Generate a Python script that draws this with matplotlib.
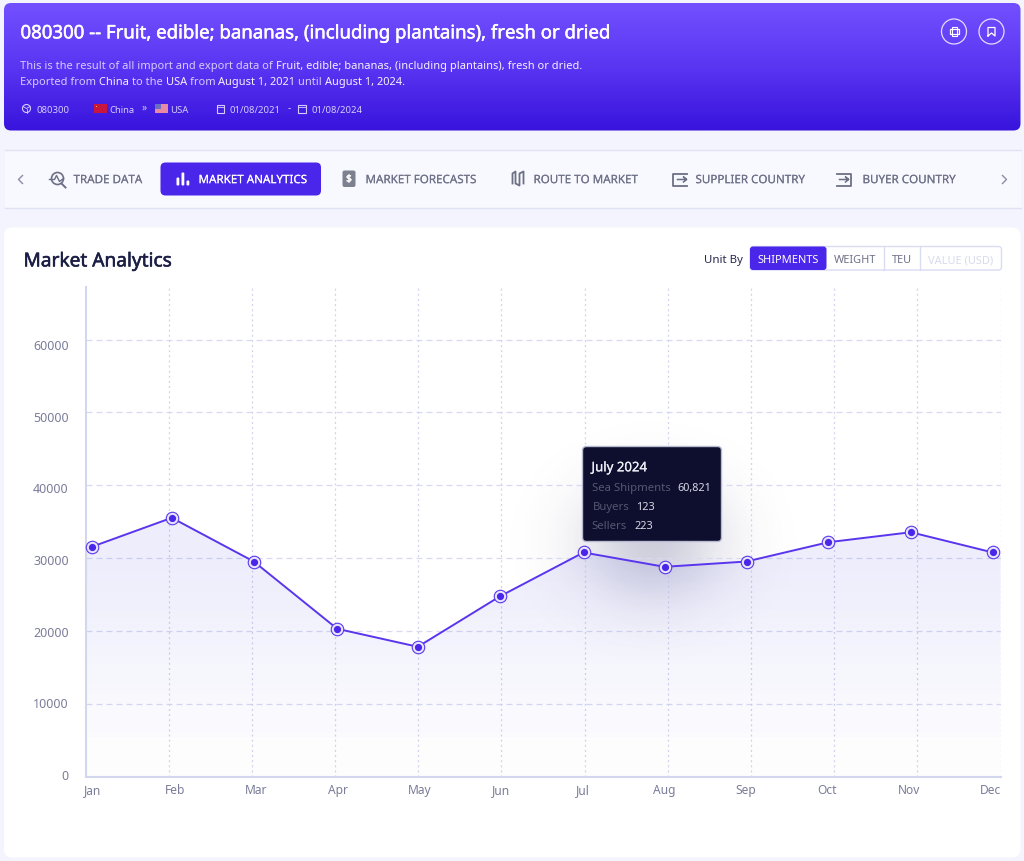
# market_analytics.py
import numpy as np
import matplotlib
matplotlib.use("Agg")
import matplotlib.pyplot as plt
import matplotlib.patheffects as pe
from matplotlib.colors import LinearSegmentedColormap, to_rgb
from matplotlib.patches import Circle, FancyBboxPatch, Polygon, Rectangle

plt.rcParams["font.family"] = ["Noto Sans", "DejaVu Sans"]

MONTHS = ["Jan", "Feb", "Mar", "Apr", "May", "Jun", "Jul", "Aug", "Sep", "Oct", "Nov", "Dec"]
# points do not sit on the gridlines in the original, so x is read off as well
MONTH_X = [0.076, 1.037, 2.023, 3.026, 3.995, 4.986, 5.987, 6.961, 7.947, 8.932, 9.922, 10.908]
SHIPMENTS = [31540, 35520, 29520, 20280, 17810, 24760, 30760, 28790, 29520, 32170, 33540, 30760]
Y_GRID = [10000, 20000, 30000, 40000, 50000, 60000]
Y_LABELS = ["0", "10000", "20000", "30000", "40000", "50000", "60000"]
NAV_ITEMS = ["TRADE DATA", "MARKET ANALYTICS", "MARKET FORECASTS", "ROUTE TO MARKET",
             "SUPPLIER COUNTRY", "BUYER COUNTRY"]
UNIT_ITEMS = ["SHIPMENTS", "WEIGHT", "TEU", "VALUE (USD)"]

W, H = 1024, 862
PAGE = "#f3f4fe"
PURPLE = "#4a25ea"
GREY = "#6d7085"


def px(v):
    return v * 0.72


def pixel_limits(a):
    # integer coordinates land on pixel centres
    a.set_xlim(-0.5, W - 0.5)
    a.set_ylim(H - 0.5, -0.5)


def box(ax, x0, y0, x1, y1, r, fc, ec="none", lw=0, z=2):
    p = FancyBboxPatch((x0, y0), x1 - x0, y1 - y0, boxstyle=f"round,pad=0,rounding_size={r}",
                       fc=fc, ec=ec, lw=lw, zorder=z)
    ax.add_patch(p)
    return p


def write(ax, x, y, s, size, color, heavy=0, ha="left", z=5):
    # centre of the letters sits a little below the centre of the text box
    t = ax.text(x, y + size * 0.1, s, fontsize=px(size), color=color, ha=ha, va="center", zorder=z)
    if heavy:
        # only regular weights resolve here, so thicken with a thin stroke
        t.set_path_effects([pe.withStroke(linewidth=heavy, foreground=color)])
    return t


def runs(ax, x, y, parts, size):
    # consecutive pieces of text in different colours
    rend = fig.canvas.get_renderer()
    for s, col in parts:
        t = write(ax, x, y, s, size, col)
        x += t.get_window_extent(rend).width


fig = plt.figure(figsize=(W / 100, H / 100), dpi=100, facecolor=PAGE)

# page layer, in pixels
ui = fig.add_axes([0, 0, 1, 1], zorder=1)
pixel_limits(ui)
ui.axis("off")

# header with vertical gradient
head = box(ui, 3.5, 3.5, 1020, 131, 7, "none", z=1)
cmap = LinearSegmentedColormap.from_list("head", ["#7350ff", "#5a35f2", "#3813dc"])
im = ui.imshow(np.linspace(0, 1, 128).reshape(-1, 1), extent=(3.5, 1020, 131, 3.5), cmap=cmap,
               aspect="auto", zorder=1)
im.set_clip_path(head)
pixel_limits(ui)

write(ui, 20, 32, "080300 -- Fruit, edible; bananas, (including plantains), fresh or dried",
      18.6, "white", heavy=0.35)
SOFT = "#d5ccff"
BRIGHT = "#f4f1ff"
runs(ui, 20, 65, [("This is the result of all import and export data of ", SOFT),
                  ("Fruit, edible; bananas, (including plantains), fresh or dried.", BRIGHT)], 11.06)
runs(ui, 20, 81, [("Exported from ", SOFT), ("China ", BRIGHT), ("to the ", SOFT), ("USA ", BRIGHT),
                  ("from ", SOFT), ("August 1, 2021 ", BRIGHT), ("until ", SOFT),
                  ("August 1, 2024.", BRIGHT)], 11.06)

ui.add_patch(Circle((26, 109), 4, fc="none", ec=SOFT, lw=0.8, zorder=4))
ui.plot([22.5, 26, 29.5], [107, 109, 107], color=SOFT, lw=0.6, zorder=4)
ui.plot([26, 26], [109, 113], color=SOFT, lw=0.6, zorder=4)
write(ui, 36, 109, "080300", 9.5, SOFT)
ui.add_patch(Rectangle((93, 104.5), 13, 8.5, fc="#c8163f", zorder=4))
ui.add_patch(Rectangle((95, 106), 1.6, 1.6, fc="#f2c84b", zorder=4))
write(ui, 109, 109, "China", 9.5, SOFT)
write(ui, 141, 107, "»", 10, SOFT)
ui.add_patch(Rectangle((154, 104.5), 13, 8.5, fc="#e98aa5", zorder=4))
ui.add_patch(Rectangle((154, 104.5), 6.5, 4.5, fc="#6a6fc0", zorder=4))
write(ui, 170, 109, "USA", 9.5, SOFT)
for cal_x in (216, 297.5):
    ui.add_patch(Rectangle((cal_x, 105), 7.5, 8, fc="none", ec=SOFT, lw=0.8, zorder=4))
    ui.plot([cal_x, cal_x + 7.5], [107.5, 107.5], color=SOFT, lw=0.6, zorder=4)
write(ui, 229, 109, "01/08/2021", 9.5, SOFT)
write(ui, 287, 107, "-", 10, SOFT)
write(ui, 311, 109, "01/08/2024", 9.5, SOFT)

# print / bookmark buttons
for cx in (953.5, 991):
    ui.add_patch(Circle((cx, 32), 12.5, fc="none", ec="#e4dcff", lw=0.9, zorder=4))
ui.add_patch(Rectangle((949, 29.5), 9.5, 5, fc="none", ec="white", lw=0.9, zorder=4))
ui.add_patch(Rectangle((951, 27), 5.5, 9, fc="none", ec="white", lw=0.8, zorder=4))
ui.plot([987.5, 987.5, 994.5, 994.5, 991, 987.5], [36.5, 28, 28, 36.5, 33.5, 36.5], color="white",
        lw=0.9, zorder=4)

# nav band
ui.add_patch(Rectangle((4, 150), 1016, 58, fc="#f8f8ff", zorder=1))
ui.plot([4, 1020], [150.5, 150.5], color="#dfe2f1", lw=1, zorder=2)
ui.plot([4, 1020], [208.5, 208.5], color="#dfe2f1", lw=1, zorder=2)
box(ui, 160, 163, 320.5, 196, 5, PURPLE, z=3)

ui.plot([22, 18, 22], [176, 180, 184], color="#8a8da5", lw=1, zorder=4)
ui.plot([1002, 1006, 1002], [176, 180, 184], color="#8a8da5", lw=1, zorder=4)

nav_x = [73, 198, 365, 533, 695, 862]
for i, (name, x) in enumerate(zip(NAV_ITEMS, nav_x)):
    write(ui, x, 180, name, 11.6, "white" if i == 1 else "#6f7288", heavy=0.08, z=5)

# nav icons
ui.add_patch(Circle((57, 179), 6, fc="none", ec=GREY, lw=1.2, zorder=4))
ui.plot([61, 65], [184, 188], color=GREY, lw=1.4, zorder=4)
ui.plot([49, 54, 56, 59, 63], [180, 180, 176, 182, 179], color=GREY, lw=1, zorder=4)
for bx, by in ((176, 178), (181, 173), (186, 181)):
    box(ui, bx, by, bx + 2.8, 186, 1, "white", z=4)
box(ui, 342, 171, 355, 187.5, 2, "#7c808f", z=4)
write(ui, 348.5, 179, "$", 10, "white", heavy=0.3, ha="center", z=5)
ui.plot([512, 512, 515, 515, 519, 519, 523, 523], [184, 174, 172, 184, 186, 174, 172, 184],
        color=GREY, lw=1.3, zorder=4)
ui.plot([686, 672, 672, 686], [174, 174, 186, 186], color=GREY, lw=1.3, zorder=4)
ui.plot([677, 686, 683, 686, 683], [180, 180, 177.5, 180, 182.5], color=GREY, lw=1.1, zorder=4)
ui.plot([836, 850, 850, 836], [174, 174, 186, 186], color=GREY, lw=1.3, zorder=4)
ui.plot([839, 848, 845, 848, 845], [180, 180, 177.5, 180, 182.5], color=GREY, lw=1.1, zorder=4)

# card
box(ui, 3.5, 228, 1020, 858, 8, "white", z=1.5)
write(ui, 23, 260, "Market Analytics", 19.1, "#1c1f45", heavy=0.4)
write(ui, 742, 259, "Unit By", 11.5, "#262a4e", ha="right")
box(ui, 749.5, 247, 1001, 270.5, 3, "white", ec="#d9dcf2", lw=1, z=2)
box(ui, 749.5, 247, 826, 270.5, 3, PURPLE, z=3)
for x in (883.5, 919.5):
    ui.plot([x, x], [247, 270.5], color="#d9dcf2", lw=1, zorder=3)
unit_x = [757, 833, 891, 927]
unit_col = ["white", "#6f7288", "#6f7288", "#d8daed"]
for name, x, col in zip(UNIT_ITEMS, unit_x, unit_col):
    write(ui, x, 259, name, 11, col)

# soft shadow under the tooltip
gx, gy = np.meshgrid(np.linspace(500, 810, 155), np.linspace(420, 700, 140))
shadow = np.exp(-((gx - 652) ** 2 / (2 * 50 ** 2) + (gy - 542) ** 2 / (2 * 42 ** 2)))
rgba = np.zeros(gx.shape + (4,))
rgba[..., :3] = to_rgb("#34346e")
rgba[..., 3] = shadow * 0.24
ui.imshow(rgba, extent=(500, 810, 700, 420), aspect="auto", zorder=2, interpolation="bilinear")
pixel_limits(ui)

# chart axes, placed so that pixel positions match
x0, x1, y_top, y_bot = 85.5, 1000.5, 287.5, 777.5
ax = fig.add_axes([x0 / W, 1 - y_bot / H, (x1 - x0) / W, (y_bot - y_top) / H], zorder=2)
ax.patch.set_alpha(0)
ax.set_xlim(0, 11)
ax.set_ylim(0, 67280)

ax.hlines(Y_GRID, 0, 11, color="#d8daf2", lw=0.9, linestyles=(0, (4.8, 3.2)), zorder=1)
ax.vlines(np.arange(1, 12), 0, 67280, color="#cfd1ec", lw=0.9, linestyles=(0, (1.5, 2.6)), zorder=1)

# gradient area under the line, running out to both edges of the plot
edge_x = [0] + MONTH_X + [11]
edge_y = SHIPMENTS[:1] + SHIPMENTS + SHIPMENTS[-1:]
fill = Polygon(list(zip(edge_x, edge_y)) + [(11, 0), (0, 0)], closed=True, transform=ax.transData,
               fc="none", ec="none")
ax.add_patch(fill)
alpha = np.interp(np.linspace(36000, 0, 300), [0, 5400, 5500, 15000, 28000, 36000],
                  [0.008, 0.01, 0.022, 0.05, 0.09, 0.095])
grad = np.zeros((300, 4, 4))
grad[..., :3] = to_rgb("#4040e0")
grad[..., 3] = alpha[:, None]
img = ax.imshow(grad, extent=(0, 11, 0, 36000), aspect="auto", zorder=1.5, interpolation="nearest")
img.set_clip_path(fill)
ax.set_xlim(0, 11)
ax.set_ylim(0, 67280)

ax.plot(MONTH_X, SHIPMENTS, color="#5a35ee", lw=1.4, zorder=3, clip_on=False)
ax.plot(MONTH_X, SHIPMENTS, ls="none", marker="o", ms=9, mfc="#e9e5fb", mec="#5a38ee", mew=0.8, zorder=4,
        clip_on=False)
ax.plot(MONTH_X, SHIPMENTS, ls="none", marker="o", ms=5.2, mfc=PURPLE, mec="none", zorder=5, clip_on=False)

for side in ("top", "right"):
    ax.spines[side].set_visible(False)
for side in ("left", "bottom"):
    ax.spines[side].set_color("#d3d6ee")
    ax.spines[side].set_linewidth(1.5)

# labels sit evenly spaced and do not line up exactly with the gridlines
ax.set_xticks(np.linspace(0.09, 10.88, len(MONTHS)), MONTHS)
ax.set_yticks(np.linspace(410, 59320, len(Y_LABELS)), Y_LABELS)
ax.tick_params(axis="x", length=0, pad=4.5, labelsize=px(12), labelcolor="#7a7d99")
ax.tick_params(axis="y", length=0, pad=12, labelsize=px(12.5), labelcolor="#7a7d99")

# tooltip on top of everything
top = fig.add_axes([0, 0, 1, 1], zorder=3)
pixel_limits(top)
top.axis("off")
box(top, 582, 447, 721, 542, 4, "#0e0f2e", ec="#b8bad2", lw=1)
write(top, 591, 467, "July 2024", 13.2, "#eeeef6", heavy=0.15)
write(top, 591, 487, "Sea Shipments", 11.3, "#55566f")
write(top, 677, 487, "60,821", 10.8, "#d8d8e6")
write(top, 592, 506, "Buyers", 11.3, "#55566f")
write(top, 636, 506, "123", 10.8, "#d8d8e6")
write(top, 591, 525, "Sellers", 11.3, "#55566f")
write(top, 634, 525, "223", 10.8, "#d8d8e6")

fig.savefig("out.png", dpi=100, facecolor=PAGE)
